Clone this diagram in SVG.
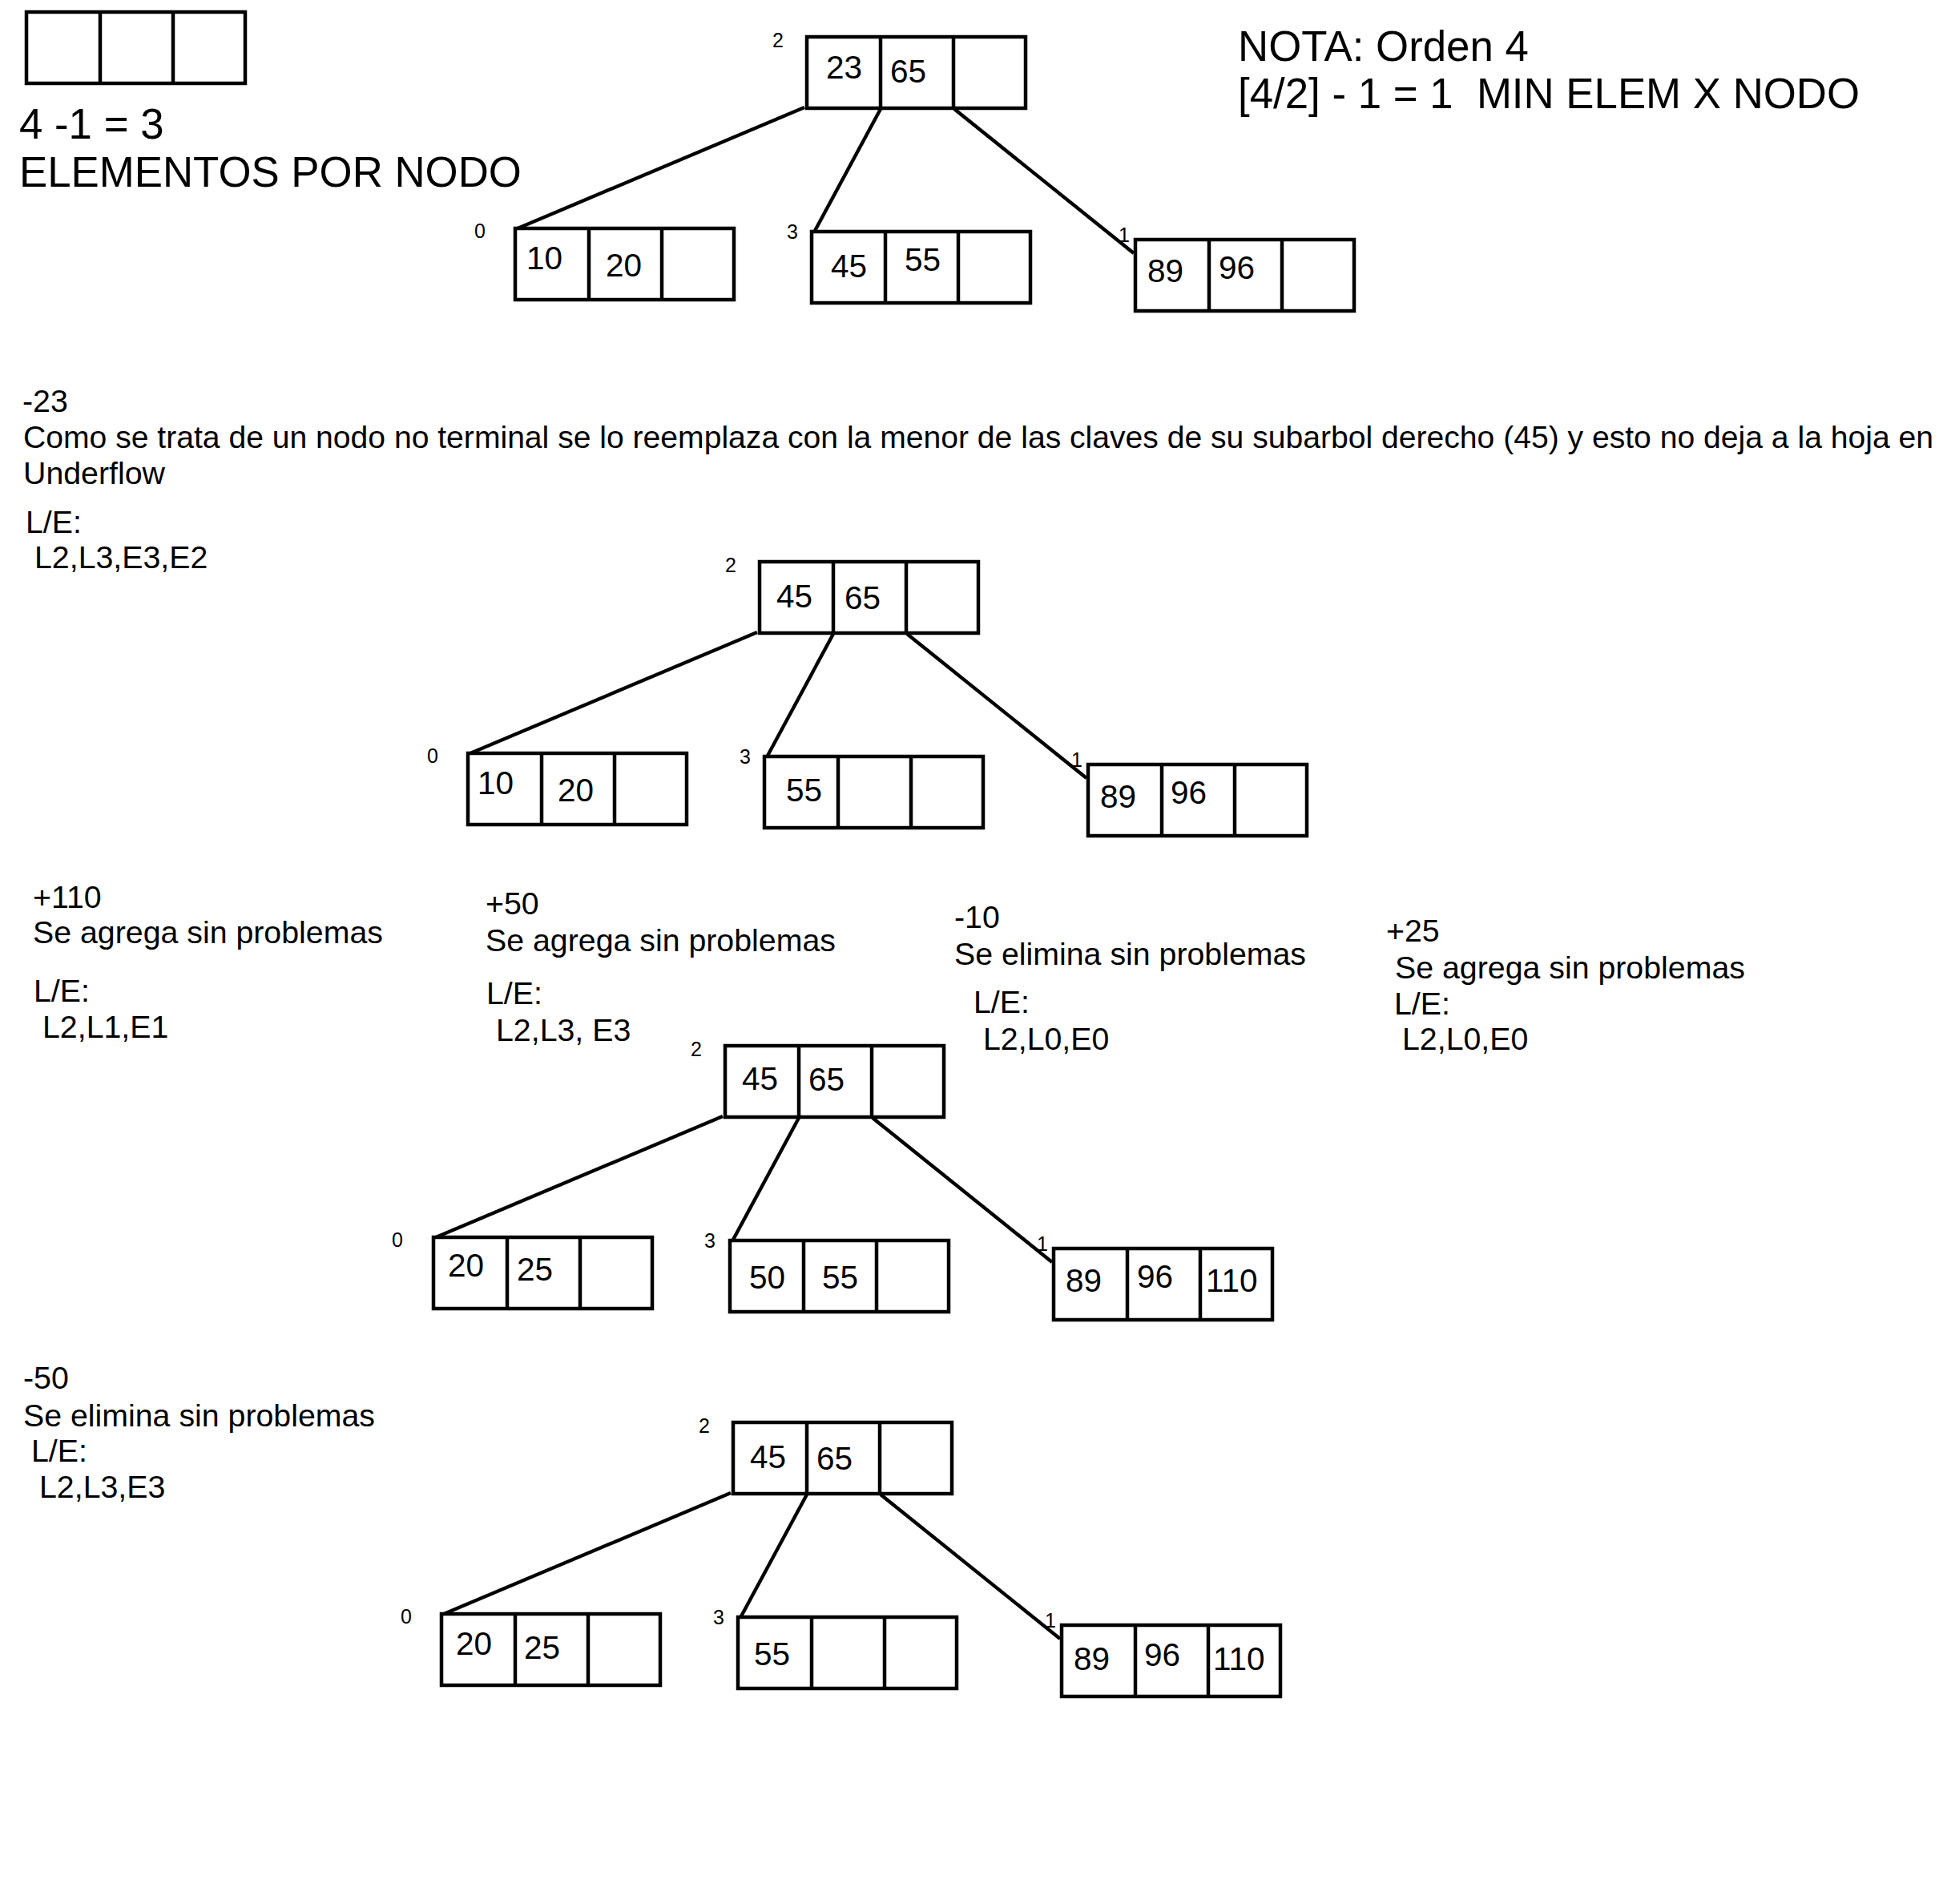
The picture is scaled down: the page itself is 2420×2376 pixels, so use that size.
<svg xmlns="http://www.w3.org/2000/svg" xmlns:xlink="http://www.w3.org/1999/xlink" width="2420" height="2376" viewBox="0 0 2420 2376">
<style>
.box{fill:none;stroke:#000;stroke-width:4.5}
.edge{stroke:#000;stroke-width:4.4;fill:none}
.big{font-family:"Liberation Sans",Arial,sans-serif;font-size:52.8px;fill:#000}
.txt{font-family:"Liberation Sans",Arial,sans-serif;font-size:39.3px;fill:#000}
.key{font-family:"Liberation Sans",Arial,sans-serif;font-size:40.5px;fill:#000}
.lbl{font-family:"Liberation Sans",Arial,sans-serif;font-size:25px;fill:#000}
</style>
<defs>
<g id="nodebox">
<rect class="box" x="0" y="0" width="273" height="89"/>
<line class="box" x1="92" y1="0" x2="92" y2="89"/>
<line class="box" x1="183" y1="0" x2="183" y2="89"/>
</g>
</defs>
<rect width="2420" height="2376" fill="#fff"/>

<g id="legend">
<use href="#nodebox" x="33" y="15"/>
<text class="big" x="24" y="173">4 -1 = 3</text>
<text class="big" x="24" y="233">ELEMENTOS POR NODO</text>
</g>
<g id="nota">
<text class="big" x="1545" y="76">NOTA: Orden 4</text>
<text class="big" x="1545" y="135" xml:space="preserve">[4/2] - 1 = 1  MIN ELEM X NODO</text>
</g>

<g id="connectors">
<line class="edge" x1="1004" y1="134" x2="646" y2="285"/>
<line class="edge" x1="1099" y1="136" x2="1017" y2="288"/>
<line class="edge" x1="1191" y1="136" x2="1415" y2="316"/>
<line class="edge" x1="945" y1="789" x2="587" y2="940"/>
<line class="edge" x1="1040" y1="791" x2="958" y2="943"/>
<line class="edge" x1="1132" y1="791" x2="1356" y2="971"/>
<line class="edge" x1="902" y1="1393" x2="544" y2="1544"/>
<line class="edge" x1="997" y1="1395" x2="915" y2="1547"/>
<line class="edge" x1="1089" y1="1395" x2="1313" y2="1575"/>
<line class="edge" x1="912" y1="1863" x2="554" y2="2014"/>
<line class="edge" x1="1007" y1="1865" x2="925" y2="2017"/>
<line class="edge" x1="1099" y1="1865" x2="1323" y2="2045"/>
</g>

<!-- Tree 1 -->
<g id="t1-root" transform="translate(1007,46)">
<use href="#nodebox"/>
<text class="lbl" x="-43" y="13">2</text>
<text class="key" x="24" y="52">23</text>
<text class="key" x="104" y="57">65</text>
</g>
<g id="t1-n0" transform="translate(643,285)">
<use href="#nodebox"/>
<text class="lbl" x="-51" y="12">0</text>
<text class="key" x="14" y="51">10</text>
<text class="key" x="113" y="60">20</text>
</g>
<g id="t1-n3" transform="translate(1013,289)">
<use href="#nodebox"/>
<text class="lbl" x="-31" y="9">3</text>
<text class="key" x="24" y="57">45</text>
<text class="key" x="116" y="49">55</text>
</g>
<g id="t1-n1" transform="translate(1417,299)">
<use href="#nodebox"/>
<text class="lbl" x="-21" y="3">1</text>
<text class="key" x="15" y="53">89</text>
<text class="key" x="104" y="49">96</text>
</g>

<!-- Section -23 -->
<g id="step-23">
<text class="txt" x="28" y="514">-23</text>
<text class="txt" x="29" y="559" textLength="2384" lengthAdjust="spacingAndGlyphs">Como se trata de un nodo no terminal se lo reemplaza con la menor de las claves de su subarbol derecho (45) y esto no deja a la hoja en</text>
<text class="txt" x="29" y="604">Underflow</text>
<text class="txt" x="32" y="665">L/E:</text>
<text class="txt" x="43" y="709">L2,L3,E3,E2</text>
</g>

<!-- Tree 2 -->
<g id="t2-root" transform="translate(948,701)">
<use href="#nodebox"/>
<text class="lbl" x="-43" y="13">2</text>
<text class="key" x="21" y="57">45</text>
<text class="key" x="106" y="59">65</text>
</g>
<g id="t2-n0" transform="translate(584,940)">
<use href="#nodebox"/>
<text class="lbl" x="-51" y="12">0</text>
<text class="key" x="12" y="51">10</text>
<text class="key" x="112" y="60">20</text>
</g>
<g id="t2-n3" transform="translate(954,944)">
<use href="#nodebox"/>
<text class="lbl" x="-31" y="9">3</text>
<text class="key" x="27" y="56">55</text>
</g>
<g id="t2-n1" transform="translate(1358,954)">
<use href="#nodebox"/>
<text class="lbl" x="-21" y="3">1</text>
<text class="key" x="15" y="54">89</text>
<text class="key" x="103" y="49">96</text>
</g>

<!-- Steps row -->
<g id="step+110">
<text class="txt" x="41" y="1133">+110</text>
<text class="txt" x="41" y="1177">Se agrega sin problemas</text>
<text class="txt" x="42" y="1250">L/E:</text>
<text class="txt" x="53" y="1295">L2,L1,E1</text>
</g>
<g id="step+50">
<text class="txt" x="606" y="1141">+50</text>
<text class="txt" x="606" y="1187">Se agrega sin problemas</text>
<text class="txt" x="607" y="1253">L/E:</text>
<text class="txt" x="619" y="1299">L2,L3, E3</text>
</g>
<g id="step-10">
<text class="txt" x="1191" y="1158">-10</text>
<text class="txt" x="1191" y="1204">Se elimina sin problemas</text>
<text class="txt" x="1215" y="1264">L/E:</text>
<text class="txt" x="1227" y="1310">L2,L0,E0</text>
</g>
<g id="step+25">
<text class="txt" x="1730" y="1175">+25</text>
<text class="txt" x="1741" y="1221">Se agrega sin problemas</text>
<text class="txt" x="1740" y="1266">L/E:</text>
<text class="txt" x="1750" y="1310">L2,L0,E0</text>
</g>

<!-- Tree 3 -->
<g id="t3-root" transform="translate(905,1305)">
<use href="#nodebox"/>
<text class="lbl" x="-43" y="13">2</text>
<text class="key" x="21" y="55">45</text>
<text class="key" x="104" y="56">65</text>
</g>
<g id="t3-n0" transform="translate(541,1544)">
<use href="#nodebox"/>
<text class="lbl" x="-52" y="12">0</text>
<text class="key" x="18" y="49">20</text>
<text class="key" x="104" y="54">25</text>
</g>
<g id="t3-n3" transform="translate(911,1548)">
<use href="#nodebox"/>
<text class="lbl" x="-32" y="9">3</text>
<text class="key" x="24" y="60">50</text>
<text class="key" x="115" y="60">55</text>
</g>
<g id="t3-n1" transform="translate(1315,1558)">
<use href="#nodebox"/>
<text class="lbl" x="-21" y="3">1</text>
<text class="key" x="15" y="54">89</text>
<text class="key" x="104" y="49">96</text>
<text class="key" x="190" y="54">110</text>
</g>

<!-- Section -50 -->
<g id="step-50">
<text class="txt" x="29" y="1733">-50</text>
<text class="txt" x="29" y="1780">Se elimina sin problemas</text>
<text class="txt" x="39" y="1824">L/E:</text>
<text class="txt" x="49" y="1869">L2,L3,E3</text>
</g>

<!-- Tree 4 -->
<g id="t4-root" transform="translate(915,1775)">
<use href="#nodebox"/>
<text class="lbl" x="-43" y="13">2</text>
<text class="key" x="21" y="57">45</text>
<text class="key" x="104" y="59">65</text>
</g>
<g id="t4-n0" transform="translate(551,2014)">
<use href="#nodebox"/>
<text class="lbl" x="-51" y="12">0</text>
<text class="key" x="18" y="51">20</text>
<text class="key" x="103" y="56">25</text>
</g>
<g id="t4-n3" transform="translate(921,2018)">
<use href="#nodebox"/>
<text class="lbl" x="-31" y="9">3</text>
<text class="key" x="20" y="60">55</text>
</g>
<g id="t4-n1" transform="translate(1325,2028)">
<use href="#nodebox"/>
<text class="lbl" x="-21" y="3">1</text>
<text class="key" x="15" y="56">89</text>
<text class="key" x="103" y="51">96</text>
<text class="key" x="189" y="56">110</text>
</g>
</svg>
